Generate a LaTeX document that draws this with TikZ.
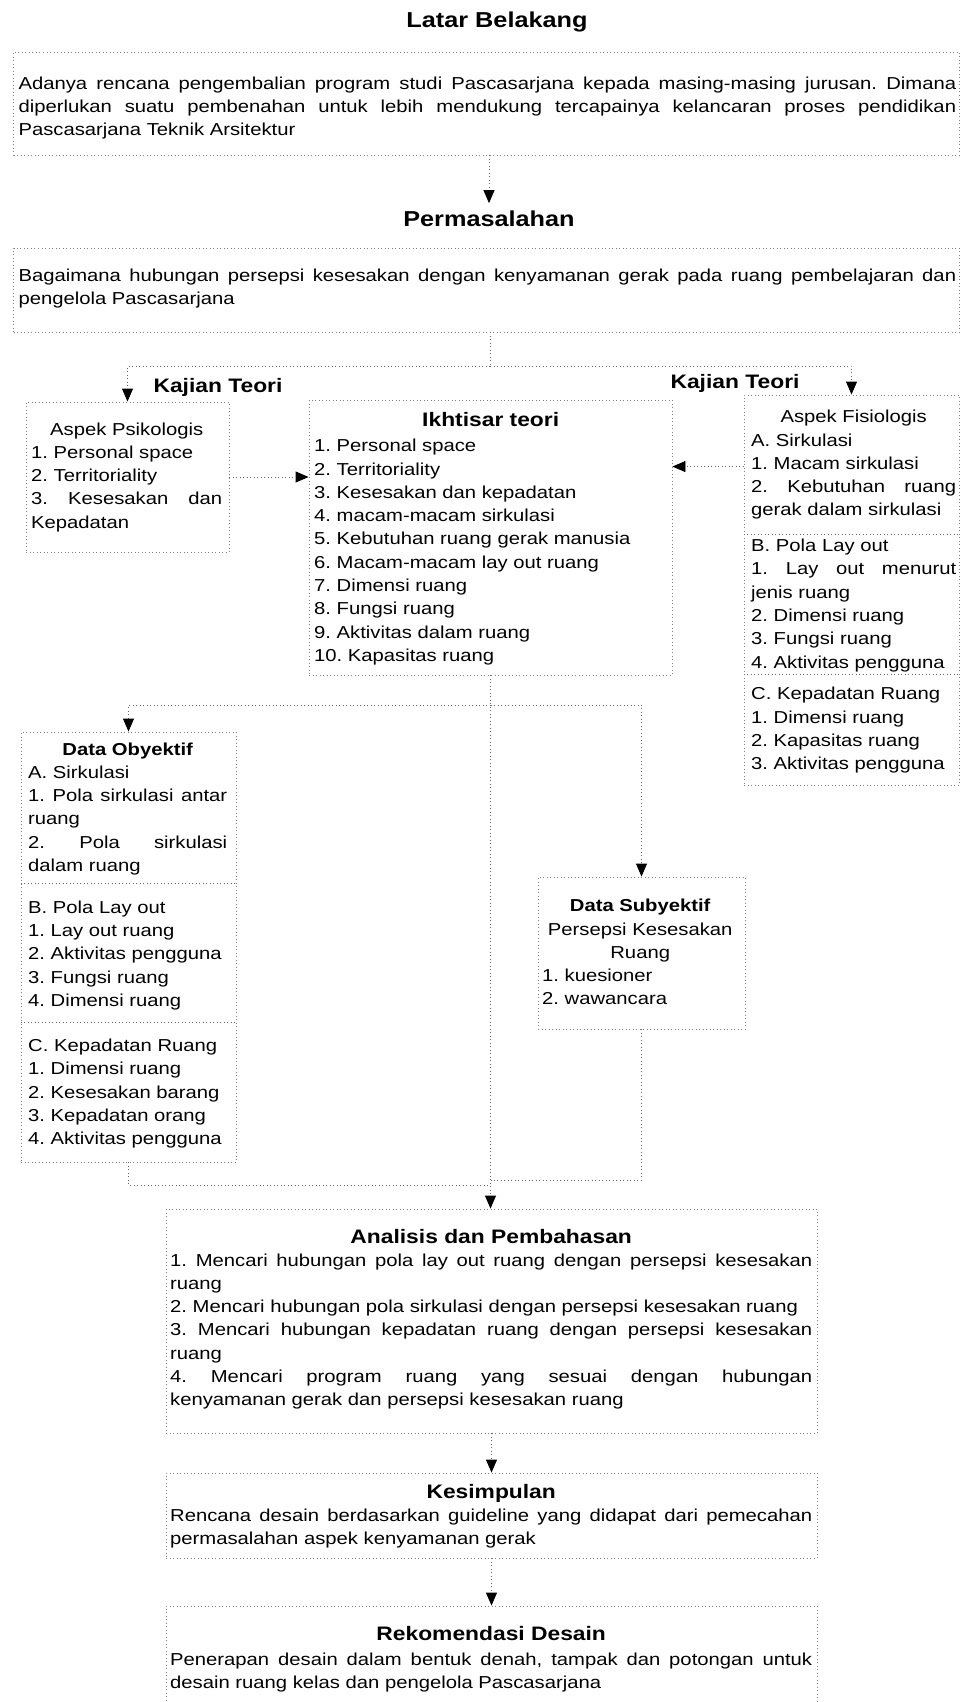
\documentclass[tikz,border=0pt]{standalone}
\usepackage{fontspec}
\setmainfont{Liberation Sans}[FakeStretch=1.17]
\usetikzlibrary{arrows.meta,calc}
\tikzstyle{kotak}=[rectangle, draw=black!50, line width=0.9pt, dash pattern=on 1pt off 2.5pt, inner sep=0pt]
\tikzstyle{garis}=[draw=black!60, line width=0.9pt, dash pattern=on 1pt off 2.5pt]
\tikzstyle{panah}=[garis, -{Triangle[width=11pt,length=13pt,color=black]}]
\tikzstyle{isi}=[inner sep=0pt, anchor=base west, align=justify, font=\fontsize{17.3}{23.3}\selectfont\frenchspacing]
\tikzstyle{judul}=[inner xsep=0pt, inner ysep=7pt, anchor=base, font=\fontsize{21.6}{26}\selectfont\bfseries]
\tikzstyle{subjudul}=[inner sep=0pt, anchor=base, font=\fontsize{19.5}{23.3}\selectfont\bfseries]
\newcommand{\rata}[1]{\makebox[\hsize][s]{\spaceskip=0pt\xspaceskip=0pt #1}}
\newcommand{\tengah}[1]{\makebox[\hsize][c]{#1}}
\newcommand{\subjudul}{\fontsize{19.5}{23.3}\selectfont\bfseries}

\begin{document}
\begin{tikzpicture}[x=1pt, y=-1pt]
	\useasboundingbox (0,0) rectangle (961,1702);

	\node[judul] (jLatar) at (497,27.5) {Latar Belakang};
	\node[kotak, minimum width=945.5pt, minimum height=103pt] (kLatar) at (486.25,103.5) {};
	\node[isi, text width=937.6pt] (iLatar) at (18.4,89) {%
		\rata{Adanya rencana pengembalian program studi Pascasarjana kepada masing-masing jurusan. Dimana}\\
		\rata{diperlukan suatu pembenahan untuk lebih mendukung tercapainya kelancaran proses pendidikan}\\
		Pascasarjana Teknik Arsitektur};

	\node[judul] (jMasalah) at (489,226) {Permasalahan};
	\node[kotak, minimum width=945.5pt, minimum height=84pt] (kMasalah) at (486.25,290) {};
	\node[isi, text width=937.6pt] (iMasalah) at (18.4,281) {%
		\rata{Bagaimana hubungan persepsi kesesakan dengan kenyamanan gerak pada ruang pembelajaran dan}\\
		pengelola Pascasarjana};

	\node[subjudul] (jKajian1) at (218,392.7) {Kajian Teori};
	\node[subjudul] (jKajian2) at (735,388.3) {Kajian Teori};

	\node[kotak, minimum width=203pt, minimum height=150pt] (kPsiko) at (127.5,477) {};
	\node[isi, text width=191pt] (iPsiko) at (31,435) {%
		\tengah{Aspek Psikologis}\\
		1. Personal space\\
		2. Territoriality\\
		\rata{3. Kesesakan dan}\\
		Kepadatan};

	\node[kotak, minimum width=363pt, minimum height=275pt] (kIkhtisar) at (490.5,537.5) {};
	\node[isi, text width=353pt] (iIkhtisar) at (314,426) {%
		\tengah{\subjudul Ikhtisar teori}\\[2.4pt]
		1. Personal space\\
		2. Territoriality\\
		3. Kesesakan dan kepadatan\\
		4. macam-macam sirkulasi\\
		5. Kebutuhan ruang gerak manusia\\
		6. Macam-macam lay out ruang\\
		7. Dimensi ruang\\
		8. Fungsi ruang\\
		9. Aktivitas dalam ruang\\
		10. Kapasitas ruang};

	\node[kotak, minimum width=215pt, minimum height=390pt] (kFisio) at (851.5,590) {};
	\node[isi, text width=205pt] (iFisio) at (751,422.7) {%
		\tengah{Aspek Fisiologis}\\
		A. Sirkulasi\\
		1. Macam sirkulasi\\
		\rata{2. Kebutuhan ruang}\\
		gerak dalam sirkulasi\\[12.4pt]
		B. Pola Lay out\\
		\rata{1. Lay out menurut}\\
		jenis ruang\\
		2. Dimensi ruang\\
		3. Fungsi ruang\\
		4. Aktivitas pengguna\\[8.4pt]
		C. Kepadatan Ruang\\
		1. Dimensi ruang\\
		2. Kapasitas ruang\\
		3. Aktivitas pengguna};
	\path[garis] ($(kFisio.north west)+(0,140)$) -- ($(kFisio.north east)+(0,140)$);
	\path[garis] ($(kFisio.north west)+(0,280)$) -- ($(kFisio.north east)+(0,280)$);

	\node[kotak, minimum width=215pt, minimum height=430pt] (kObyektif) at (128.5,947) {};
	\node[isi, text width=199pt] (iObyektif) at (28,755) {%
		\tengah{\bfseries Data Obyektif}\\
		A. Sirkulasi\\
		\rata{1. Pola sirkulasi antar}\\
		ruang\\
		\rata{2. Pola sirkulasi}\\
		dalam ruang\\[18.4pt]
		B. Pola Lay out\\
		1. Lay out ruang\\
		2. Aktivitas pengguna\\
		3. Fungsi ruang\\
		4. Dimensi ruang\\[21.8pt]
		C. Kepadatan Ruang\\
		1. Dimensi ruang\\
		2. Kesesakan barang\\
		3. Kepadatan orang\\
		4. Aktivitas pengguna};
	\path[garis] ($(kObyektif.north west)+(0,152)$) -- ($(kObyektif.north east)+(0,152)$);
	\path[garis] ($(kObyektif.north west)+(0,291)$) -- ($(kObyektif.north east)+(0,291)$);

	\node[kotak, minimum width=207pt, minimum height=152pt] (kSubyektif) at (641.5,953) {};
	\node[isi, text width=196pt] (iSubyektif) at (542,911.7) {%
		\tengah{\bfseries Data Subyektif}\\
		\tengah{Persepsi Kesesakan}\\
		\tengah{Ruang}\\
		1. kuesioner\\
		2. wawancara};

	\node[kotak, minimum width=651pt, minimum height=224pt] (kAnalisis) at (491.5,1321) {};
	\node[isi, text width=642pt] (iAnalisis) at (170,1243.3) {%
		\tengah{\subjudul Analisis dan Pembahasan}\\[-0.6pt]
		\rata{1. Mencari hubungan pola lay out ruang dengan persepsi kesesakan}\\
		ruang\\
		2. Mencari hubungan pola sirkulasi dengan persepsi kesesakan ruang\\
		\rata{3. Mencari hubungan kepadatan ruang dengan persepsi kesesakan}\\
		ruang\\
		\rata{4. Mencari program ruang yang sesuai dengan hubungan}\\
		kenyamanan gerak dan persepsi kesesakan ruang};

	\node[kotak, minimum width=651pt, minimum height=85pt] (kSimpulan) at (491.5,1515.5) {};
	\node[isi, text width=642pt] (iSimpulan) at (170,1498.3) {%
		\tengah{\subjudul Kesimpulan}\\
		\rata{Rencana desain berdasarkan guideline yang didapat dari pemecahan}\\
		permasalahan aspek kenyamanan gerak};

	\node[kotak, minimum width=651pt, minimum height=106pt] (kRekom) at (491.5,1659) {};
	\node[isi, text width=642pt] (iRekom) at (170,1640.7) {%
		\tengah{\subjudul Rekomendasi Desain}\\[1pt]
		\rata{Penerapan desain dalam bentuk denah, tampak dan potongan untuk}\\
		desain ruang kelas dan pengelola Pascasarjana};

	\coordinate (cabang1) at (490,366);
	\coordinate (cabang2) at (490.5,705);
	\coordinate (gabung1) at (490.5,1185);
	\coordinate (gabung2) at (490.5,1180);
	\coordinate (pFisio) at ($(kFisio.north west)+(0,72)$);

	\path[panah] (kLatar.south -| jMasalah.north) -- (jMasalah.north);
	\path[garis] (kMasalah.south -| cabang1) -- (cabang1);
	\path[panah] (cabang1) -| (kPsiko.north);
	\path[panah] (cabang1) -| (kFisio.north);
	\path[panah] (kPsiko.east) -- (kPsiko.east -| kIkhtisar.west);
	\path[panah] (pFisio) -- (pFisio -| kIkhtisar.east);
	\path[panah] (kIkhtisar.south) -- (kIkhtisar.south |- kAnalisis.north);
	\path[panah] (cabang2) -| (kObyektif.north);
	\path[panah] (cabang2) -| (kSubyektif.north);
	\path[garis] (kObyektif.south) |- (gabung1);
	\path[garis] (kSubyektif.south) |- (gabung2);
	\path[panah] (kAnalisis.south) -- (kSimpulan.north);
	\path[panah] (kSimpulan.south) -- (kRekom.north);
\end{tikzpicture}
\end{document}
